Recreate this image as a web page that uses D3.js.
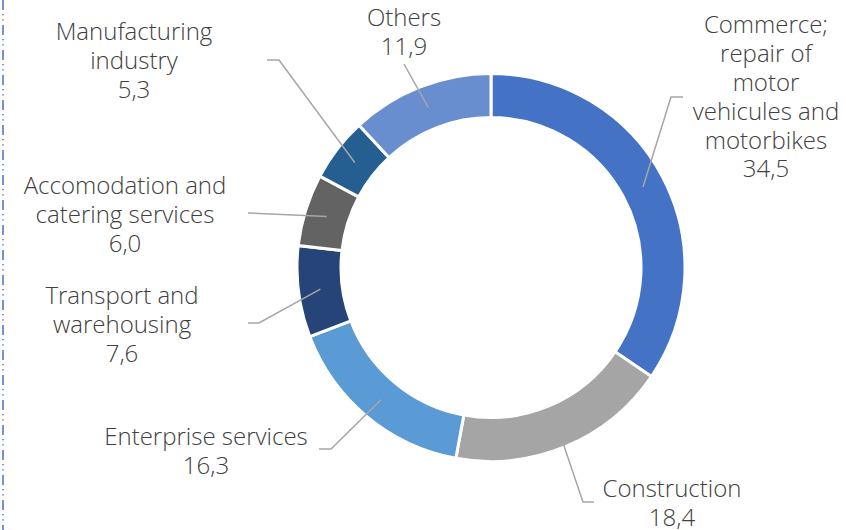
<!DOCTYPE html>
<html>
<head>
<meta charset="utf-8">
<script src="https://cdn.jsdelivr.net/npm/d3@7"></script>
<style>
  body { margin: 0; background: #fff; }
  svg text { font-family: "Open Sans", Lato, sans-serif; font-weight: 300; fill: #404040; }
</style>
</head>
<body>
<svg width="846" height="530"></svg>
<script>
var svg = d3.select("svg"),
    width = +svg.attr("width"),
    height = +svg.attr("height");

// data
var sectors = ["Commerce; repair of motor vehicules and motorbikes", "Construction", "Enterprise services",
  "Transport and warehousing", "Accomodation and catering services", "Manufacturing industry", "Others"];
var shares = [34.5, 18.4, 16.3, 7.6, 6.0, 5.3, 11.9];
var labelLines = [
  ["Commerce;", "repair of", "motor", "vehicules and", "motorbikes"],
  ["Construction"],
  ["Enterprise services"],
  ["Transport and", "warehousing"],
  ["Accomodation and", "catering services"],
  ["Manufacturing", "industry"],
  ["Others"]
];
var colors = ["#4472C4", "#A5A5A5", "#5B9BD5", "#264478", "#636363", "#255E91", "#698ED0"];

// label layout: text centre x, first line y, leader elbow and end
var labelPos = [
  { x: 766, y: 25, elbow: [671, 97], end: [683, 97] },
  { x: 672, y: 489, elbow: [583, 502], end: [594, 502] },
  { x: 206, y: 437, elbow: [331, 449], end: [319, 449] },
  { x: 122, y: 296, elbow: [259, 323], end: [248, 323] },
  { x: 125, y: 186, elbow: null, end: [248, 213] },
  { x: 134, y: 32, elbow: [279, 60], end: [267, 60] },
  { x: 404, y: 18, elbow: null, end: [404, 64] }
];

var cx = 491, cy = 267.5, outerR = 194, innerR = 150, lineH = 28.8;

// left dash-dot border
svg.append("line")
  .attr("x1", 3).attr("x2", 3)
  .attr("y1", 0).attr("y2", height)
  .attr("stroke", "#4472C4")
  .attr("stroke-width", 1.5)
  .attr("stroke-dasharray", "10,4,1.2,4,1.2,4.6");

var pie = d3.pie().sort(null).value(function(d) { return d; });
var arcs = pie(shares);

var arc = d3.arc().innerRadius(innerR).outerRadius(outerR);
var mid = d3.arc().innerRadius((innerR + outerR) / 2).outerRadius((innerR + outerR) / 2);

var g = svg.append("g").attr("transform", "translate(" + cx + "," + cy + ")");

g.selectAll("path.slice")
  .data(arcs)
  .enter().append("path")
    .attr("class", "slice")
    .attr("d", arc)
    .attr("fill", function(d, i) { return colors[i]; })
    .attr("stroke", "#fff")
    .attr("stroke-width", 3)
    .attr("stroke-linejoin", "miter");

// leader lines
svg.append("g").selectAll("polyline")
  .data(arcs)
  .enter().append("polyline")
    .attr("points", function(d, i) {
      var c = mid.centroid(d), p = labelPos[i];
      var pts = [[cx + c[0], cy + c[1]]];
      if (p.elbow) pts.push(p.elbow);
      pts.push(p.end);
      return pts.map(function(q) { return q.join(","); }).join(" ");
    })
    .attr("fill", "none")
    .attr("stroke", "#A6A6A6")
    .attr("stroke-width", 1.5);

// labels
var lab = svg.append("g").selectAll("text")
  .data(arcs)
  .enter().append("text")
    .attr("text-anchor", "middle")
    .attr("font-size", "24px");

lab.each(function(d, i) {
  var t = d3.select(this), p = labelPos[i];
  var lines = labelLines[i].concat([d3.format(".1f")(d.data).replace(".", ",")]);
  lines.forEach(function(s, k) {
    t.append("tspan")
      .attr("x", p.x)
      .attr("y", p.y + k * lineH)
      .attr("dy", "0.35em")
      .text(s);
  });
});
</script>
</body>
</html>
